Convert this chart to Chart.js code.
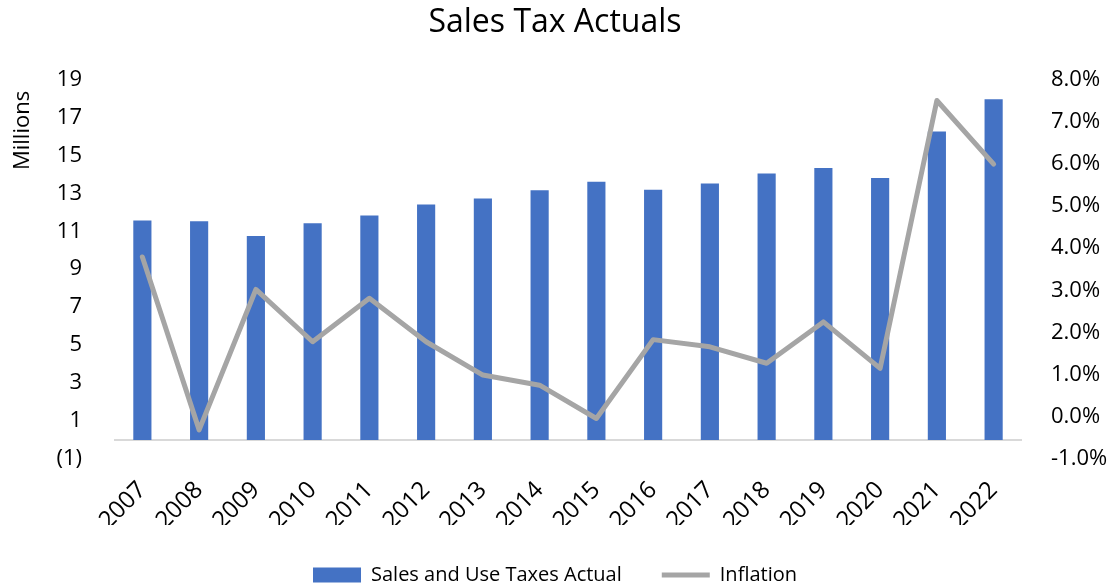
<!DOCTYPE html>
<html lang="en">
<head>
<meta charset="UTF-8">
<title>Sales Tax Actuals</title>
<script src="https://cdn.jsdelivr.net/npm/chart.js"></script>
<style>
body { margin: 0; background: #fff; }
.wrap { width: 1110px; height: 586px; position: relative; }
</style>
</head>
<body>
<div class="wrap"><canvas id="chart"></canvas></div>
<script>
// data
const years = ['2007', '2008', '2009', '2010', '2011', '2012', '2013', '2014', '2015', '2016', '2017', '2018', '2019', '2020', '2021', '2022'];
const salesTax = [11.56, 11.53, 10.75, 11.42, 11.83, 12.41, 12.72, 13.16, 13.61, 13.19, 13.51, 14.04, 14.33, 13.81, 16.26, 17.96]; // millions
const inflation = [3.79, -0.31, 3.02, 1.78, 2.81, 1.78, 0.99, 0.75, -0.04, 1.83, 1.66, 1.27, 2.25, 1.15, 7.50, 5.99]; // percent
const leftMin = -1, leftMax = 19, leftStep = 2;
const rightMin = -1, rightMax = 8, rightStep = 1;

const FONT = "'Open Sans', 'Noto Sans', sans-serif";
const BLUE = '#4472C4';
const GREY = '#A5A5A5';

// Excel draws the category axis line at zero, not at the bottom
const zeroLine = {
	id: 'zeroLine',
	beforeDatasetsDraw(chart) {
		const { ctx, chartArea: a, scales: { y } } = chart;
		const py = y.getPixelForValue(0);
		ctx.save();
		ctx.strokeStyle = '#D9D9D9';
		ctx.lineWidth = 2;
		ctx.beginPath();
		ctx.moveTo(a.left, py);
		ctx.lineTo(a.right, py);
		ctx.stroke();
		ctx.restore();
	}
};

new Chart(document.getElementById('chart'), {
	data: {
		labels: years,
		datasets: [
			{ type: 'bar', label: 'Sales and Use Taxes Actual', data: salesTax, yAxisID: 'y', backgroundColor: BLUE, borderWidth: 0, categoryPercentage: 1, barPercentage: 0.32, order: 1 },
			{ type: 'line', label: 'Inflation', data: inflation, yAxisID: 'y2', borderColor: GREY, backgroundColor: GREY, borderWidth: 5, pointRadius: 0, tension: 0, borderJoinStyle: 'round', borderCapStyle: 'round', order: 0 }
		]
	},
	options: {
		responsive: true,
		maintainAspectRatio: false,
		animation: false,
		layout: { padding: { left: 0, right: 0, top: 0, bottom: -9 } },
		plugins: {
			title: { display: true, text: 'Sales Tax Actuals', color: '#000', font: { family: FONT, size: 32, weight: 'normal' }, padding: { top: 4, bottom: 37 } },
			tooltip: { enabled: false },
			legend: {
				position: 'bottom',
				labels: {
					color: '#000',
					font: { family: FONT, size: 20 },
					usePointStyle: true,
					pointStyleWidth: 48,
					boxHeight: 15,
					padding: 40,
					generateLabels(chart) {
						const items = Chart.defaults.plugins.legend.labels.generateLabels(chart);
						items.forEach(it => {
							const isLine = chart.data.datasets[it.datasetIndex].type === 'line';
							it.pointStyle = isLine ? 'line' : 'rect';
							it.lineWidth = isLine ? 5 : 0;
							it.strokeStyle = isLine ? GREY : BLUE;
							it.fillStyle = isLine ? GREY : BLUE;
						});
						return items.sort((a, b) => a.datasetIndex - b.datasetIndex);
					}
				}
			}
		},
		scales: {
			x: {
				grid: { display: false },
				border: { display: false },
				ticks: { color: '#000', font: { family: FONT, size: 24 }, minRotation: 45, maxRotation: 45, padding: 9 },
				afterFit(s) { s.height = 66; }
			},
			y: {
				position: 'left',
				min: leftMin, max: leftMax,
				grid: { display: false },
				border: { display: false },
				ticks: { stepSize: leftStep, color: '#000', font: { family: FONT, size: 22 }, padding: 24,
					callback: v => v < 0 ? '(' + Math.abs(v) + ')' : String(v) },
				title: { display: true, text: 'Millions  ', align: 'end', color: '#000', font: { family: FONT, size: 22 }, padding: { top: 10, bottom: 4 } },
				afterFit(s) { s.width = 114; }
			},
			y2: {
				position: 'right',
				min: rightMin, max: rightMax,
				grid: { display: false },
				border: { display: false },
				ticks: { stepSize: rightStep, color: '#000', font: { family: FONT, size: 22 }, padding: 21,
					callback: v => v.toFixed(1) + '%' },
				afterFit(s) { s.width = 88; }
			}
		}
	},
	plugins: [zeroLine]
});
</script>
</body>
</html>
